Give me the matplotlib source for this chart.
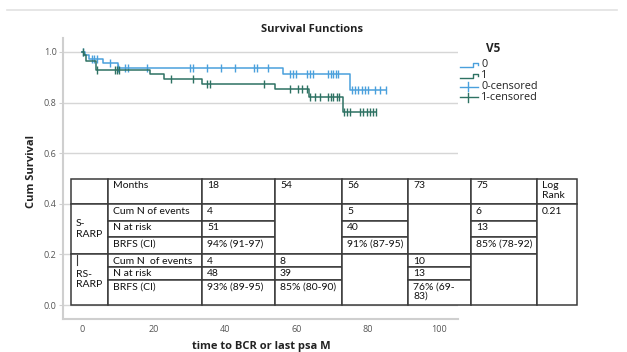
import numpy as np
import matplotlib.pyplot as plt
from matplotlib.patches import Rectangle

# ---- survival curves ----
grp0_t = [0, 0.8, 2.0, 5.9, 10.0, 56.1, 75.0]
grp0_s = [1.0, 0.987, 0.972, 0.955, 0.938, 0.913, 0.85]
grp0_end = 85.0
grp0_cens = [0.2, 2.8, 3.4, 4.2, 7.8, 10.0, 12.0, 12.9, 18.2, 30.2, 31.0, 35.0, 39.0,
             42.8, 48.0, 49.0, 52.0, 58.2, 59.0, 60.0, 63.0, 63.8, 64.6, 68.8, 69.6,
             70.2, 71.0, 71.6, 75.5, 76.4, 77.2, 78.3, 79.1, 80.0, 82.0, 83.4, 85.0]

grp1_t = [0, 0.6, 1.2, 4.0, 19.0, 23.0, 33.7, 54.0, 63.5, 72.9]
grp1_s = [1.0, 0.988, 0.966, 0.929, 0.912, 0.892, 0.872, 0.853, 0.823, 0.764]
grp1_end = 82.3
grp1_cens = [0.2, 4.2, 9.3, 9.8, 10.4, 25.0, 31.0, 35.0, 35.8, 51.0, 58.2, 60.4, 61.5,
             63.0, 63.8, 65.2, 66.6, 68.8, 69.6, 70.2, 71.3, 71.9, 73.3, 74.1, 75.0,
             77.8, 78.6, 79.7, 80.6, 81.4, 82.2]

legend_title = 'V5'
legend_labels = ['0', '1', '0-censored', '1-censored']
c0 = '#4aa0dc'
c1 = '#2e7263'

# ---- table contents ----
months = ['18', '54', '56', '73', '75']
row_labels_s = ['Cum N of events', 'N at risk', 'BRFS (CI)']
row_labels_rs = ['Cum N  of events', 'N at risk', 'BRFS (CI)']
s_rarp = {'18': ['4', '51', '94% (91-97)'],
          '56': ['5', '40', '91% (87-95)'],
          '75': ['6', '13', '85% (78-92)']}
rs_rarp = {'18': ['4', '48', '93% (89-95)'],
           '54': ['8', '39', '85% (80-90)'],
           '73': ['10', '13', '76% (69-\n83)']}
log_rank = '0.21'

W, H = 627, 352
fig = plt.figure(figsize=(W / 100, H / 100), dpi=100)
fig.patch.set_facecolor('white')

def fx(px):
    return px / W

def fy(py):
    return 1 - py / H

# main axes
ax = fig.add_axes([fx(63), fy(319), fx(458 - 63), (319 - 38) / H])
ax.set_xlim(-5.31, 105.2)
ax.set_ylim(-0.0553, 1.055)

def curve(t, s, end):
    tt = list(t) + [end]
    ss = list(s) + [s[-1]]
    return tt, ss

def surv_at(t, s, x):
    i = np.searchsorted(t, x, side='right') - 1
    return np.array(s)[i]

for t, s, end, cens, col in [(grp0_t, grp0_s, grp0_end, grp0_cens, c0),
                             (grp1_t, grp1_s, grp1_end, grp1_cens, c1)]:
    tt, ss = curve(t, s, end)
    ax.step(tt, ss, where='post', color=col, lw=1.1, zorder=3)
    ax.plot(cens, surv_at(t, s, cens), ls='none', marker='|', ms=5.5, mew=1,
            color=col, zorder=3)

ax.set_yticks([0.0, 0.2, 0.4, 0.6, 0.8, 1.0])
ax.set_xticks([0, 20, 40, 60, 80, 100])
ax.grid(axis='y', color='#d6d6d6', lw=1)
ax.set_axisbelow(True)
for sp in ['top', 'right']:
    ax.spines[sp].set_visible(False)
for sp in ['left', 'bottom']:
    ax.spines[sp].set_color('#cfcfcf')
    ax.spines[sp].set_linewidth(1.5)
ax.tick_params(axis='both', colors='#cfcfcf', labelcolor='#555555', labelsize=6.5,
               length=3, pad=1.5)
ax.tick_params(axis='x', length=0, pad=4)
for lab in ax.get_xticklabels() + ax.get_yticklabels():
    lab.set_family('Open Sans')

# overlay in pixel coords
ov = fig.add_axes([0, 0, 1, 1], zorder=5)
ov.set_xlim(0, W)
ov.set_ylim(H, 0)
ov.axis('off')
ov.patch.set_alpha(0)

ov.plot([7, 617], [10, 10], color='#e2e2e2', lw=1.2)
ov.text(312, 29, 'Survival Functions', ha='center', va='center', fontsize=8,
        fontweight='bold', family='Open Sans', color='#222222')
ov.text(32, 171, 'Cum Survival', ha='center', va='center', rotation=90, fontsize=8,
        fontweight='bold', family='Open Sans', color='#222222')
ov.text(261, 346, 'time to BCR or last psa M', ha='center', va='center', fontsize=8,
        fontweight='bold', family='Open Sans', color='#222222')

# legend
ov.text(493, 48, legend_title, ha='center', va='center', fontsize=8.5,
        fontweight='bold', family='Open Sans', color='#222222')
leg_y = [64.5, 75.5, 86.5, 97]
leg_c = [c0, c1, c0, c1]
for i, (lab, y, col) in enumerate(zip(legend_labels, leg_y, leg_c)):
    if i < 2:
        ov.plot([460, 473, 473, 478, 478], [y + 2.5, y + 2.5, y - 2, y - 2, y + 0.5],
                color=col, lw=1)
    else:
        ov.plot([460, 478], [y, y], color=col, lw=1)
        ov.plot([468, 468], [y - 4.5, y + 4.5], color=col, lw=1)
    ov.text(481, y, lab, ha='left', va='center', fontsize=7.8, family='Open Sans',
            color='#222222')

# table
xe = [71, 108, 202, 275, 342, 408, 471, 537, 577]
ye_head = [179, 204]
ye_s = [204, 221, 237, 254]
ye_rs = [254, 267, 280, 305]
tc = '#3a3a3a'
tfont = dict(family='Lato', fontsize=7.5, color='#111111')

def cell(x0, x1, y0, y1, txt='', center=False):
    ov.add_patch(Rectangle((x0, y0), x1 - x0, y1 - y0, facecolor='white',
                           edgecolor=tc, lw=1.1))
    if txt:
        if center:
            ov.text(x0 + 5, (y0 + y1) / 2, txt, ha='left', va='center',
                    linespacing=1.15, **tfont)
        else:
            ov.text(x0 + 5, y0 + 2.5, txt, ha='left', va='top', linespacing=1.0,
                    **tfont)

# header row
cell(xe[0], xe[1], *ye_head)
cell(xe[1], xe[2], *ye_head, 'Months')
for j, m in enumerate(months):
    cell(xe[2 + j], xe[3 + j], *ye_head, m)
cell(xe[7], xe[8], *ye_head, 'Log\nRank')

for name, labels, data, ye in [('S-\nRARP', row_labels_s, s_rarp, ye_s),
                               ('RS-\nRARP', row_labels_rs, rs_rarp, ye_rs)]:
    cell(xe[0], xe[1], ye[0], ye[-1], name, center=True)
    for r, lab in enumerate(labels):
        cell(xe[1], xe[2], ye[r], ye[r + 1], lab)
    for j, m in enumerate(months):
        if m in data:
            for r, v in enumerate(data[m]):
                cell(xe[2 + j], xe[3 + j], ye[r], ye[r + 1], v)
        else:
            cell(xe[2 + j], xe[3 + j], ye[0], ye[-1])

cell(xe[7], xe[8], ye_s[0], ye_rs[-1], log_rank)
ov.plot([77, 77], [255, 265], color=tc, lw=0.8)

fig.savefig('out.png', dpi=100, facecolor='white')
